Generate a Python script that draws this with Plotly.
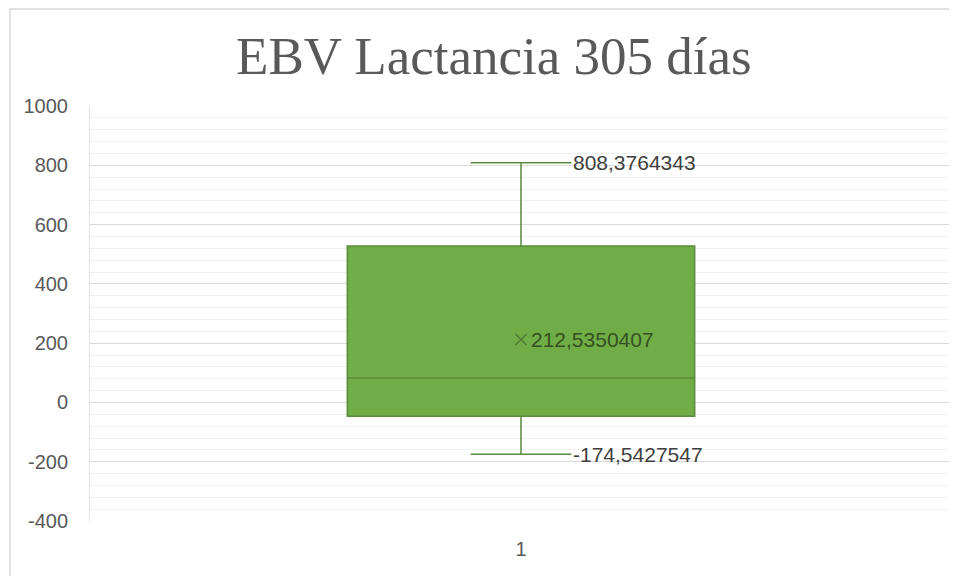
import plotly.graph_objects as go

# Datos del diagrama de caja
categoria = [1]
minimo = [-174.5427547]
q1 = [-47]
mediana = [82]
q3 = [528]
maximo = [808.3764343]
media = [212.5350407]

etiquetas = {
    "max": "808,3764343",
    "min": "-174,5427547",
    "media": "212,5350407",
}

y_ticks = [-400, -200, 0, 200, 400, 600, 800, 1000]
y_ticktext = [str(v) for v in y_ticks]

verde = "#70AD47"
verde_linea = "#5a8a3c"
gris_texto = "#595959"

fig = go.Figure()

fig.add_trace(
    go.Box(
        x=categoria,
        q1=q1,
        median=mediana,
        q3=q3,
        lowerfence=minimo,
        upperfence=maximo,
        fillcolor=verde,
        line=dict(color=verde_linea, width=1.5),
        width=0.403,
        whiskerwidth=0.29,
        boxpoints=False,
        hoverinfo="skip",
        showlegend=False,
    )
)

# Marcador de la media (X)
fig.add_trace(
    go.Scatter(
        x=categoria,
        y=media,
        mode="markers",
        marker=dict(symbol="x-thin", size=11,
                    line=dict(color="#4f7a33", width=1.5)),
        hoverinfo="skip",
        showlegend=False,
    )
)

# Etiquetas de datos
fuente_etq = dict(family="Liberation Sans, Arial", size=21, color="#404040")
fig.add_annotation(x=categoria[0], y=maximo[0], text=etiquetas["max"],
                   xanchor="left", yanchor="middle", xshift=50, showarrow=False,
                   font=fuente_etq)
fig.add_annotation(x=categoria[0], y=minimo[0], text=etiquetas["min"],
                   xanchor="left", yanchor="middle", xshift=50, showarrow=False,
                   font=fuente_etq)
fig.add_annotation(x=categoria[0], y=media[0], text=etiquetas["media"],
                   xanchor="left", yanchor="middle", xshift=8, showarrow=False,
                   font=dict(family="Liberation Sans, Arial", size=21, color="#34501f"))

# Borde exterior del gráfico
fig.add_shape(type="rect", xref="paper", yref="paper",
              x0=-0.0928, x1=1.02, y0=-0.2, y1=1.2337,
              line=dict(color="#d9d9d9", width=1.5), layer="below")

fig.update_layout(
    width=949,
    height=568,
    margin=dict(l=82, r=5, t=98, b=55),
    paper_bgcolor="white",
    plot_bgcolor="white",
    title=dict(
        text="EBV Lactancia 305 días",
        x=0.512, xanchor="center",
        y=0.917, yanchor="middle",
        font=dict(family="Liberation Serif, Times New Roman", size=53, color=gris_texto),
    ),
    xaxis=dict(
        range=[0.5, 1.5],
        tickvals=categoria,
        ticktext=["1"],
        showgrid=False,
        zeroline=False,
        showline=False,
        ticklabelstandoff=14,
        tickfont=dict(family="Liberation Sans, Arial", size=20, color=gris_texto),
    ),
    yaxis=dict(
        range=[-400, 1000],
        tickvals=y_ticks,
        ticktext=y_ticktext,
        gridcolor="#d9d9d9",
        gridwidth=1,
        zeroline=False,
        showline=True,
        linecolor="#e3e3e3",
        minor=dict(dtick=40, showgrid=True, gridcolor="#f0f0f0", gridwidth=1),
        ticklabelstandoff=17,
        tickfont=dict(family="Liberation Sans, Arial", size=20, color=gris_texto),
    ),
)

fig.write_html("out.html")
